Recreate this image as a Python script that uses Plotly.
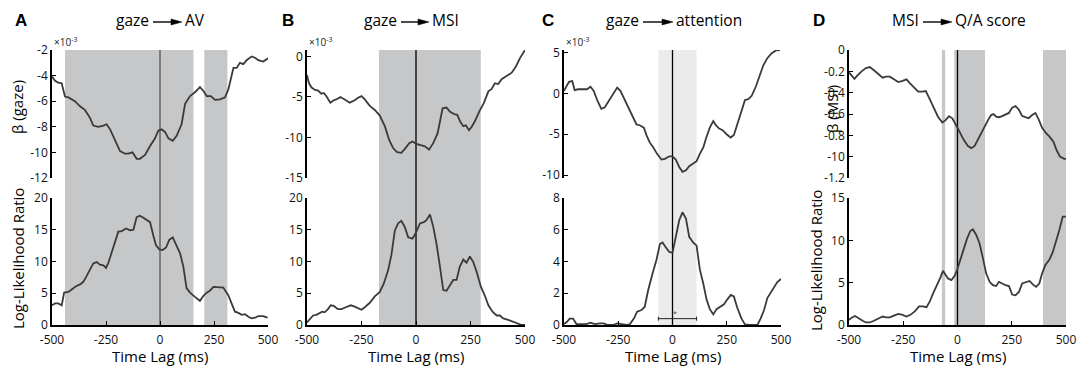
import plotly.graph_objects as go

# ---------------- data ----------------
# Panel A: gaze -> AV
lag_a_top = [-500,-486,-471,-455,-440,-424,-394,-370,-347,-324,-309,-285,-262,-247,-231,-208,-185,-162,-147,-127,
             -108,-93,-69,-46,-23,-8,8,23,39,59,77,100,116,139,162,185,201,216,235,255,278,301,316,340,355,370,
             386,401,424,440,455,478,500]
beta_a = [-4.08,-4.4,-4.55,-4.6,-5.64,-5.7,-6.0,-6.4,-6.7,-7.3,-7.9,-8.0,-7.9,-7.8,-8.2,-9.0,-9.9,-10.1,-10.1,-10.0,
          -10.5,-10.5,-10.2,-9.5,-8.9,-8.3,-8.2,-8.4,-8.9,-9.1,-8.7,-7.8,-6.2,-5.6,-5.3,-4.9,-5.2,-5.6,-5.6,-5.9,-5.85,
          -5.7,-5.1,-3.4,-3.4,-3.0,-3.1,-2.8,-2.5,-2.6,-2.8,-2.9,-2.65]
lag_a_bot = [-500,-486,-471,-455,-444,-424,-409,-389,-370,-355,-340,-324,-309,-293,-278,-262,-250,-239,-224,-208,
             -193,-177,-157,-139,-123,-108,-93,-77,-62,-46,-31,-19,-3,12,28,43,59,74,93,108,123,139,154,170,185,
             201,216,231,247,270,293,316,332,347,363,378,394,409,424,440,455,478,498]
llr_a = [3.1,3.4,3.4,3.1,5.1,5.2,5.6,6.1,6.4,6.8,7.7,8.7,9.7,9.9,9.5,9.4,9.0,9.8,11.5,13.1,14.7,14.8,15.2,14.9,15.0,
         17.0,17.2,16.9,16.6,16.2,14.1,12.6,11.9,11.8,12.2,13.4,13.8,12.6,11.3,9.2,5.8,5.1,4.6,4.2,3.8,4.6,5.1,5.4,
         6.0,6.0,5.9,4.7,3.4,2.1,1.9,1.6,1.7,1.3,1.05,1.15,1.4,1.4,1.15]
shade_a = [[-440, 155], [205, 312]]

# Panel B: gaze -> MSI
lag_b_top = [-500,-491,-480,-465,-449,-434,-423,-411,-393,-377,-365,-347,-327,-304,-281,-266,-250,-235,-212,-189,
             -166,-143,-123,-105,-87,-67,-51,-31,-16,2,21,41,60,79,99,122,140,155,174,189,204,217,229,243,255,270,
             290,312,332,347,362,377,393,416,439,459,477,500]
beta_b = [-2.3,-3.3,-3.8,-4.1,-4.2,-4.6,-4.5,-4.9,-5.7,-5.4,-5.3,-5.0,-5.3,-5.7,-5.4,-5.1,-4.9,-5.3,-6.1,-6.6,-7.3,
          -8.6,-10.3,-11.3,-11.8,-11.9,-11.4,-10.7,-10.5,-10.8,-10.95,-11.1,-11.5,-10.7,-9.5,-6.4,-6.3,-6.8,-7.1,-7.2,
          -8.1,-8.6,-8.5,-9.1,-8.7,-8.0,-6.8,-5.7,-4.3,-4.0,-3.3,-3.4,-2.8,-2.4,-2.0,-1.2,-0.2,0.8]
lag_b_bot = [-500,-488,-472,-457,-442,-430,-419,-404,-391,-377,-358,-342,-322,-299,-281,-266,-250,-235,-212,-189,
             -166,-148,-128,-113,-97,-82,-67,-51,-36,-16,2,18,36,48,64,79,94,109,125,140,155,171,186,201,217,232,
             247,263,278,298,316,332,351,370,385,400,423,446,469,485,500]
llr_b = [0.4,0.9,1.5,1.6,1.9,2.1,2.0,2.5,3.1,3.0,2.5,2.5,2.8,3.1,2.9,2.6,2.4,2.8,3.5,4.5,5.2,6.5,8.6,11.0,14.9,16.0,
         16.4,15.4,13.8,13.6,14.7,16.0,16.2,16.5,17.4,15.5,12.8,9.4,5.5,5.4,6.3,7.1,7.1,9.2,10.3,9.8,10.8,9.9,8.4,
         6.0,4.6,3.1,2.1,1.5,1.5,1.05,0.8,0.5,0.15,0.0,0.0]
shade_b = [[-170, 297]]

# Panel C: gaze -> attention
lag_c_top = [-500,-489,-477,-462,-451,-435,-412,-394,-378,-363,-346,-328,-312,-297,-277,-255,-240,-225,-205,-189,
             -166,-151,-132,-120,-105,-89,-71,-51,-35,-15,0,15,31,46,62,77,95,111,126,142,157,172,188,200,215,231,
             249,268,283,298,318,334,349,365,385,403,418,437,457,477,495]
beta_c = [0.3,0.8,1.4,1.5,0.4,0.5,0.5,0.5,0.8,0.3,-0.9,-1.9,-1.7,-1.1,-0.3,0.7,0.3,-0.5,-1.7,-2.6,-3.8,-3.9,-4.2,
          -5.1,-6.0,-6.6,-7.4,-8.1,-8.0,-7.7,-7.7,-8.1,-9.0,-9.6,-9.4,-8.9,-8.6,-8.3,-7.4,-6.6,-5.3,-4.2,-3.4,-3.9,
          -4.3,-4.5,-5.0,-5.4,-5.1,-3.8,-2.1,-0.8,-0.7,-0.3,0.9,2.3,3.4,4.3,4.9,5.25,5.3]
lag_c_bot = [-500,-486,-474,-458,-443,-420,-397,-378,-358,-335,-317,-297,-274,-255,-235,-212,-197,-178,-163,-143,
             -128,-112,-92,-74,-58,-46,-31,-15,0,15,31,46,62,77,95,111,126,142,157,172,188,203,218,237,252,269,283,
             298,318,334,357,391,406,422,437,452,468,483,500]
llr_c = [0.06,0.2,0.4,0.4,0.06,0.06,0.06,0.15,0.06,0.1,0.1,0.0,0.0,0.1,0.04,0.0,0.04,0.4,0.84,0.94,1.15,2.2,3.25,
         4.1,5.1,5.2,4.9,4.6,4.55,5.55,6.6,7.1,6.7,5.55,5.2,5.0,3.5,2.6,1.6,1.0,0.67,1.0,1.15,1.3,1.6,1.9,1.8,1.1,
         0.4,0.04,0.0,0.0,0.4,0.94,1.7,2.0,2.4,2.7,2.9]
shade_c = [[-65, 111]]
ci_c = [-65, 111]
ci_c_level = 0.4

# Panel D: MSI -> Q/A score
lag_d_top = [-500,-488,-475,-462,-442,-422,-404,-385,-365,-345,-330,-312,-293,-273,-253,-235,-220,-201,-181,-162,
             -146,-128,-109,-90,-70,-56,-39,-24,-5,10,28,48,64,79,94,109,125,140,155,166,178,191,206,224,237,252,
             267,283,298,313,328,344,359,374,390,408,423,442,457,472,492,500]
beta_d = [-0.21,-0.24,-0.27,-0.24,-0.2,-0.17,-0.16,-0.19,-0.225,-0.26,-0.25,-0.25,-0.275,-0.3,-0.29,-0.275,-0.31,
          -0.35,-0.39,-0.39,-0.385,-0.46,-0.54,-0.625,-0.68,-0.66,-0.62,-0.64,-0.71,-0.775,-0.84,-0.9,-0.92,-0.9,
          -0.84,-0.78,-0.71,-0.66,-0.61,-0.6,-0.625,-0.63,-0.62,-0.6,-0.59,-0.54,-0.525,-0.56,-0.62,-0.63,-0.64,
          -0.61,-0.59,-0.65,-0.73,-0.78,-0.81,-0.86,-0.94,-1.0,-1.02,-1.02]
lag_d_bot = [-500,-488,-472,-457,-437,-422,-404,-385,-365,-345,-330,-312,-293,-273,-253,-235,-217,-197,-177,-159,
             -143,-128,-113,-94,-79,-67,-54,-44,-28,-13,-2,13,28,44,59,71,87,102,117,132,148,163,178,191,206,221,
             237,252,267,283,298,313,332,347,362,377,390,405,423,439,454,469,485,500]
llr_d = [0.6,0.86,1.06,0.8,0.5,0.3,0.3,0.5,0.8,1.0,0.9,0.9,1.1,1.3,1.2,1.0,1.2,1.6,2.2,2.2,2.1,2.75,3.7,4.7,5.6,
         6.4,5.9,5.5,5.3,5.8,6.5,7.7,8.9,10.2,11.1,11.3,10.6,9.6,7.9,6.1,5.1,4.7,4.6,5.1,4.9,4.7,4.6,3.6,3.5,3.9,
         4.9,5.0,5.2,4.8,4.5,4.9,6.1,7.1,7.7,8.6,9.8,11.2,12.8,12.8]
shade_d = [[-72, -57], [-15, 127], [394, 500]]

x_ticks = [-500, -250, 0, 250, 500]

# ---------------- layout helpers ----------------
W, H = 1077, 367
def px(x):
    return x / W
def py(y):
    return 1 - y / H

FONT = "Open Sans"
LINE = "#3a3a3a"
GRAY = "#c6c7c9"
LIGHT = "#ebebeb"

panels = [
    dict(left=52, right=268, top=(lag_a_top, beta_a), bot=(lag_a_bot, llr_a), shade=shade_a, shade_col=GRAY,
         zero_col="#555555", ytop_range=[-12, -2], ytop_vals=[-12, -10, -8, -6, -4, -2],
         ytop_text=["-12", "-10", "-8", "-6", "-4", "-2"], ybot_range=[0, 20], ybot_vals=[0, 5, 10, 15, 20],
         letter="A", letter_x=21, title=("gaze", "AV"), arrow=(153, 182), exp=True),
    dict(left=307, right=525, top=(lag_b_top, beta_b), bot=(lag_b_bot, llr_b), shade=shade_b, shade_col=GRAY,
         zero_col="#000000", ytop_range=[-15, 0.8], ytop_vals=[-15, -10, -5, 0],
         ytop_text=["-15", "-10", "-5", "0"], ybot_range=[0, 20], ybot_vals=[0, 5, 10, 15, 20],
         letter="B", letter_x=288, title=("gaze", "MSI"), arrow=(401, 429), exp=True),
    dict(left=564, right=781, top=(lag_c_top, beta_c), bot=(lag_c_bot, llr_c), shade=shade_c, shade_col=LIGHT,
         zero_col="#000000", ytop_range=[-10.35, 5.3], ytop_vals=[-10, -5, 0, 5],
         ytop_text=["-10", "-5", "0", "5"], ybot_range=[0, 8], ybot_vals=[0, 2, 4, 6, 8],
         letter="C", letter_x=548, title=("gaze", "attention"), arrow=(643, 673), exp=True),
    dict(left=849, right=1066, top=(lag_d_top, beta_d), bot=(lag_d_bot, llr_d), shade=shade_d, shade_col=GRAY,
         zero_col="#000000", ytop_range=[-1.2, 0], ytop_vals=[-1.2, -1.0, -0.8, -0.6, -0.4, -0.2, 0],
         ytop_text=["-1.2", "-10", "-0.8", "-0.6", "-0.4", "-0.2", "0"], ybot_range=[0, 15], ybot_vals=[0, 5, 10, 15],
         letter="D", letter_x=819, title=("MSI", "Q/A score"), arrow=(923, 952), exp=False),
]

TOP_DOM = [py(178), py(50)]
BOT_DOM = [py(325), py(198)]

fig = go.Figure()
layout = dict(
    template="none",
    width=W, height=H, margin=dict(l=0, r=0, t=0, b=0, pad=0),
    paper_bgcolor="white", plot_bgcolor="rgba(0,0,0,0)", showlegend=False,
    font=dict(family=FONT, size=13, color="#111111"),
)
shapes = []
annotations = []

axis_common = dict(showgrid=False, zeroline=False, showline=True, linecolor="black", linewidth=1.5,
                   ticks="inside", ticklen=4, tickwidth=1.2, tickcolor="black", automargin=False,
                   tickfont=dict(family=FONT, size=12, color="#111111"))

for i, p in enumerate(panels):
    nt, nb = 2 * i + 1, 2 * i + 2
    xt, yt = f"x{nt}", f"y{nt}"
    xb, yb = f"x{nb}", f"y{nb}"
    xdom = [px(p["left"]), px(p["right"])]
    key = lambda a, n: a + ("" if n == 1 else str(n))
    layout[key("xaxis", nt)] = dict(domain=xdom, range=[-500, 500], visible=False, anchor=yt, automargin=False)
    layout[key("yaxis", nt)] = dict(domain=TOP_DOM, range=p["ytop_range"], anchor=xt,
                                    tickvals=p["ytop_vals"], ticktext=p["ytop_text"], ticklabelstandoff=0,
                                    **axis_common)
    layout[key("xaxis", nb)] = dict(domain=xdom, range=[-500, 500], anchor=yb, tickvals=x_ticks,
                                    ticktext=[str(v) for v in x_ticks],
                                    ticklabelstandoff=3, **axis_common)
    layout[key("yaxis", nb)] = dict(domain=BOT_DOM, range=p["ybot_range"], anchor=xb,
                                    tickvals=p["ybot_vals"], ticktext=[str(v) for v in p["ybot_vals"]],
                                    ticklabelstandoff=0, **axis_common)

    # shaded significance windows spanning both subplots
    for s0, s1 in p["shade"]:
        shapes.append(dict(type="rect", xref=xb, yref="paper", x0=s0, x1=s1, y0=BOT_DOM[0], y1=TOP_DOM[1],
                           fillcolor=p["shade_col"], line=dict(width=0), layer="below"))
    # zero-lag line
    shapes.append(dict(type="line", xref=xb, yref="paper", x0=0, x1=0, y0=BOT_DOM[0], y1=TOP_DOM[1],
                       line=dict(color=p["zero_col"], width=1.3), layer="below"))

    fig.add_trace(go.Scatter(x=p["top"][0], y=p["top"][1], mode="lines", xaxis=xt, yaxis=yt,
                             line=dict(color=LINE, width=1.8), hoverinfo="skip"))
    fig.add_trace(go.Scatter(x=p["bot"][0], y=p["bot"][1], mode="lines", xaxis=xb, yaxis=yb,
                             line=dict(color=LINE, width=1.8), hoverinfo="skip"))

    # panel letter
    annotations.append(dict(text=f"<b>{p['letter']}</b>", x=px(p["letter_x"]), y=py(21), xref="paper", yref="paper",
                            showarrow=False, font=dict(family="Liberation Sans", size=17, color="black"),
                            xanchor="center", yanchor="middle"))
    a0, a1 = p["arrow"]
    # title pieces either side of the arrow
    annotations.append(dict(text=p["title"][0], x=px(a0 - 3), y=py(20), xref="paper", yref="paper",
                            showarrow=False, font=dict(family=FONT, size=15.5, color="black"),
                            xanchor="right", yanchor="middle", borderpad=0))
    annotations.append(dict(text=p["title"][1], x=px(a1 + 2), y=py(20), xref="paper", yref="paper",
                            showarrow=False, font=dict(family=FONT, size=15.5, color="black"),
                            xanchor="left", yanchor="middle", borderpad=0))
    # title arrow (line + filled head)
    ay = 22
    shapes.append(dict(type="line", xref="paper", yref="paper", x0=px(a0), x1=px(a1 - 9), y0=py(ay), y1=py(ay),
                       line=dict(color="black", width=1.4)))
    shapes.append(dict(type="path", xref="paper", yref="paper",
                       path=f"M {px(a1 - 11)} {py(ay - 3)} L {px(a1)} {py(ay)} L {px(a1 - 11)} {py(ay + 3)} Z",
                       fillcolor="black", line=dict(color="black", width=0.5)))
    # x axis title
    annotations.append(dict(text="Time Lag (ms)", x=px((p["left"] + p["right"]) / 2), y=py(356), xref="paper",
                            yref="paper", showarrow=False, font=dict(family=FONT, size=15, color="black"),
                            xanchor="center", yanchor="middle", borderpad=0))
    if p["exp"]:
        annotations.append(dict(text="\u00d710<sup>-3</sup>", x=px(p["left"]), y=py(42), xref="paper", yref="paper",
                                showarrow=False, font=dict(family=FONT, size=10, color="#222222"),
                                xanchor="left", yanchor="middle"))

# y axis titles
for text, x, y in [("\u03b2 (gaze)", 17, 107), ("Log-Likelihood Ratio", 18, 259),
                   ("\u03b2 (MSI)", 832, 109), ("Log-Likelihood Ratio", 816, 261)]:
    annotations.append(dict(text=text, x=px(x), y=py(y), xref="paper", yref="paper", showarrow=False,
                            textangle=-90, font=dict(family=FONT, size=15, color="black"),
                            xanchor="center", yanchor="middle"))

# confidence bar in panel C
cap = 0.13
fig.add_trace(go.Scatter(
    x=[ci_c[0], ci_c[1], None, ci_c[0], ci_c[0], None, ci_c[1], ci_c[1]],
    y=[ci_c_level, ci_c_level, None, ci_c_level - cap, ci_c_level + cap, None, ci_c_level - cap, ci_c_level + cap],
    mode="lines", xaxis="x6", yaxis="y6", line=dict(color="#222222", width=1), hoverinfo="skip"))
annotations.append(dict(text="*", x=10, y=ci_c_level + 0.3, xref="x6", yref="y6", showarrow=False,
                        font=dict(family=FONT, size=7, color="#444444")))

layout["shapes"] = shapes
layout["annotations"] = annotations
fig.update_layout(**layout)

fig.write_html("out.html", config={"displayModeBar": False},
               post_script="document.body.style.margin='0';")
